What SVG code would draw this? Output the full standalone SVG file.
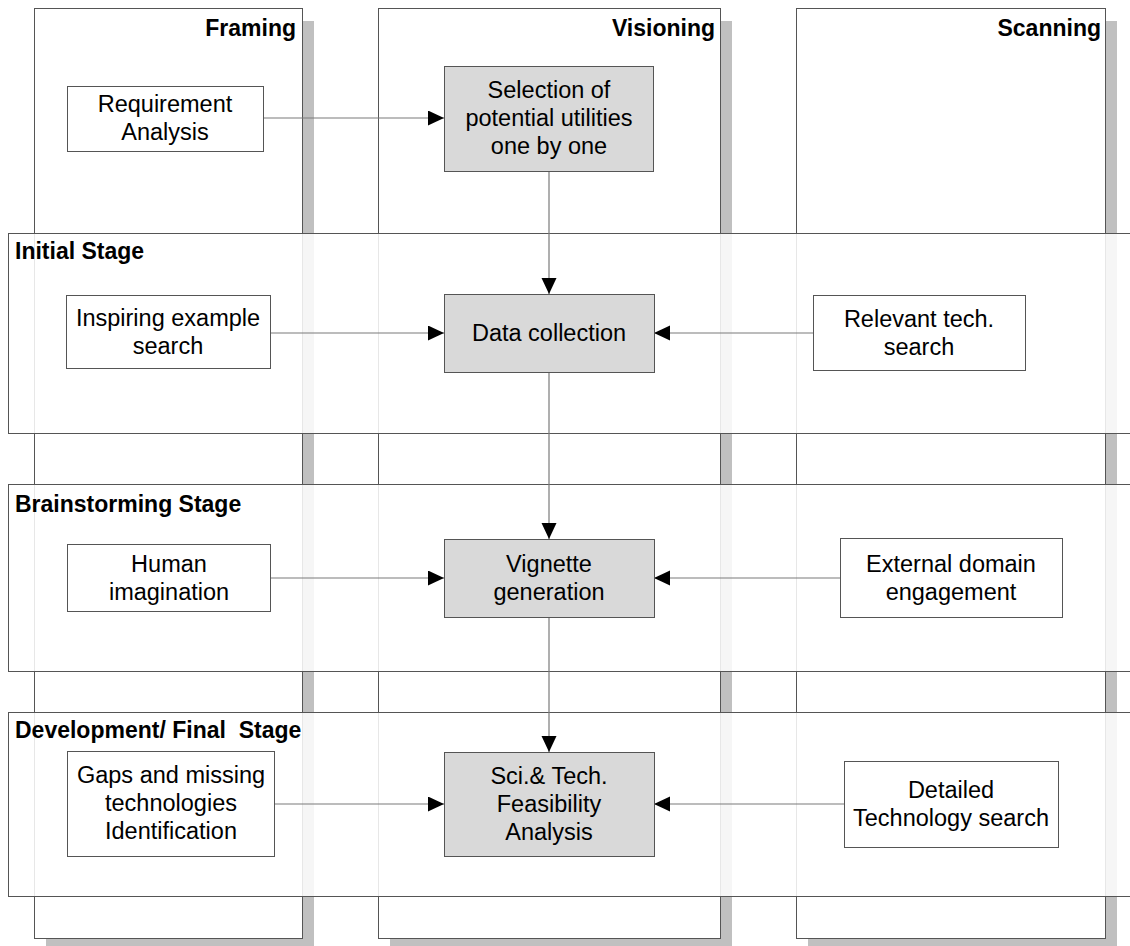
<svg xmlns="http://www.w3.org/2000/svg" width="1130" height="946" viewBox="0 0 1130 946">
<style>
.col{fill:#fff;stroke:#555;stroke-width:1}
.shadow{fill:#c0c0c0;stroke:none}
.band{fill:#fff;fill-opacity:0.86;stroke:#555;stroke-width:1}
.title{font-family:"Liberation Sans",Arial,sans-serif;font-weight:bold;font-size:23px;fill:#000}
.box{fill:#fff;stroke:#555;stroke-width:1}
.gbox{fill:#d9d9d9;stroke:#555;stroke-width:1}
.lbl{font-family:"Liberation Sans",Arial,sans-serif;font-size:23.5px;fill:#000;text-anchor:middle}
.conn{stroke:#7a7a7a;stroke-width:1.2;fill:none;marker-end:url(#arr)}
</style>
<defs>
<marker id="arr" markerUnits="userSpaceOnUse" markerWidth="17" markerHeight="16" refX="16" refY="7.5" orient="auto">
<path d="M0,0 L16,7.5 L0,15 Z" fill="#000"/>
</marker>
</defs>
<rect width="1130" height="946" fill="#fff"/>
<g id="col-framing">
<rect class="shadow" x="46" y="21" width="268" height="930"/>
<rect class="col" x="34.5" y="8.5" width="268" height="930"/>
<text class="title" x="296" y="36" text-anchor="end">Framing</text>
</g>
<g id="col-visioning">
<rect class="shadow" x="390" y="21" width="342" height="930"/>
<rect class="col" x="378.5" y="8.5" width="342" height="930"/>
<text class="title" x="715" y="36" text-anchor="end">Visioning</text>
</g>
<g id="col-scanning">
<rect class="shadow" x="808" y="21" width="309" height="930"/>
<rect class="col" x="796.5" y="8.5" width="309" height="930"/>
<text class="title" x="1101" y="36" text-anchor="end">Scanning</text>
</g>
<g id="band-initial">
<rect class="band" x="8.5" y="233.5" width="1130" height="200"/>
<text class="title" x="15" y="259">Initial Stage</text>
</g>
<g id="band-brainstorming">
<rect class="band" x="8.5" y="484.5" width="1130" height="187"/>
<text class="title" x="15" y="512">Brainstorming Stage</text>
</g>
<g id="band-development">
<rect class="band" x="8.5" y="712.5" width="1130" height="184"/>
<text class="title" x="15" y="738" xml:space="preserve">Development/ Final  Stage</text>
</g>
<g id="connectors">
<line class="conn" x1="263" y1="118" x2="444" y2="118"/>
<line class="conn" x1="549" y1="171" x2="549" y2="294"/>
<line class="conn" x1="549" y1="372" x2="549" y2="539"/>
<line class="conn" x1="549" y1="617" x2="549" y2="752"/>
<line class="conn" x1="270" y1="333" x2="444" y2="333"/>
<line class="conn" x1="813" y1="333" x2="654" y2="333"/>
<line class="conn" x1="270" y1="578" x2="444" y2="578"/>
<line class="conn" x1="840" y1="578" x2="654" y2="578"/>
<line class="conn" x1="274" y1="804" x2="444" y2="804"/>
<line class="conn" x1="844" y1="804" x2="654" y2="804"/>
</g>
<g id="node-requirement">
<rect class="box" x="67.5" y="86.5" width="196" height="65"/>
<text class="lbl" x="165" y="112">Requirement</text>
<text class="lbl" x="165" y="140">Analysis</text>
</g>
<g id="node-selection">
<rect class="gbox" x="444.5" y="66.5" width="209" height="105"/>
<text class="lbl" x="549" y="98">Selection of</text>
<text class="lbl" x="549" y="126">potential utilities</text>
<text class="lbl" x="549" y="154">one by one</text>
</g>
<g id="node-inspiring">
<rect class="box" x="66.5" y="295.5" width="204" height="73"/>
<text class="lbl" x="168" y="326">Inspiring example</text>
<text class="lbl" x="168" y="354">search</text>
</g>
<g id="node-data">
<rect class="gbox" x="444.5" y="294.5" width="210" height="78"/>
<text class="lbl" x="549" y="341">Data collection</text>
</g>
<g id="node-relevant">
<rect class="box" x="813.5" y="295.5" width="212" height="75"/>
<text class="lbl" x="919" y="327">Relevant tech.</text>
<text class="lbl" x="919" y="355">search</text>
</g>
<g id="node-human">
<rect class="box" x="67.5" y="544.5" width="203" height="67"/>
<text class="lbl" x="169" y="572">Human</text>
<text class="lbl" x="169" y="600">imagination</text>
</g>
<g id="node-vignette">
<rect class="gbox" x="444.5" y="539.5" width="210" height="78"/>
<text class="lbl" x="549" y="572">Vignette</text>
<text class="lbl" x="549" y="600">generation</text>
</g>
<g id="node-external">
<rect class="box" x="840.5" y="538.5" width="222" height="79"/>
<text class="lbl" x="951" y="572">External domain</text>
<text class="lbl" x="951" y="600">engagement</text>
</g>
<g id="node-gaps">
<rect class="box" x="67.5" y="751.5" width="207" height="105"/>
<text class="lbl" x="171" y="783">Gaps and missing</text>
<text class="lbl" x="171" y="811">technologies</text>
<text class="lbl" x="171" y="839">Identification</text>
</g>
<g id="node-sci">
<rect class="gbox" x="444.5" y="752.5" width="210" height="104"/>
<text class="lbl" x="549" y="784">Sci.&amp; Tech.</text>
<text class="lbl" x="549" y="812">Feasibility</text>
<text class="lbl" x="549" y="840">Analysis</text>
</g>
<g id="node-detailed">
<rect class="box" x="844.5" y="761.5" width="214" height="86"/>
<text class="lbl" x="951" y="798">Detailed</text>
<text class="lbl" x="951" y="826">Technology search</text>
</g>
</svg>
